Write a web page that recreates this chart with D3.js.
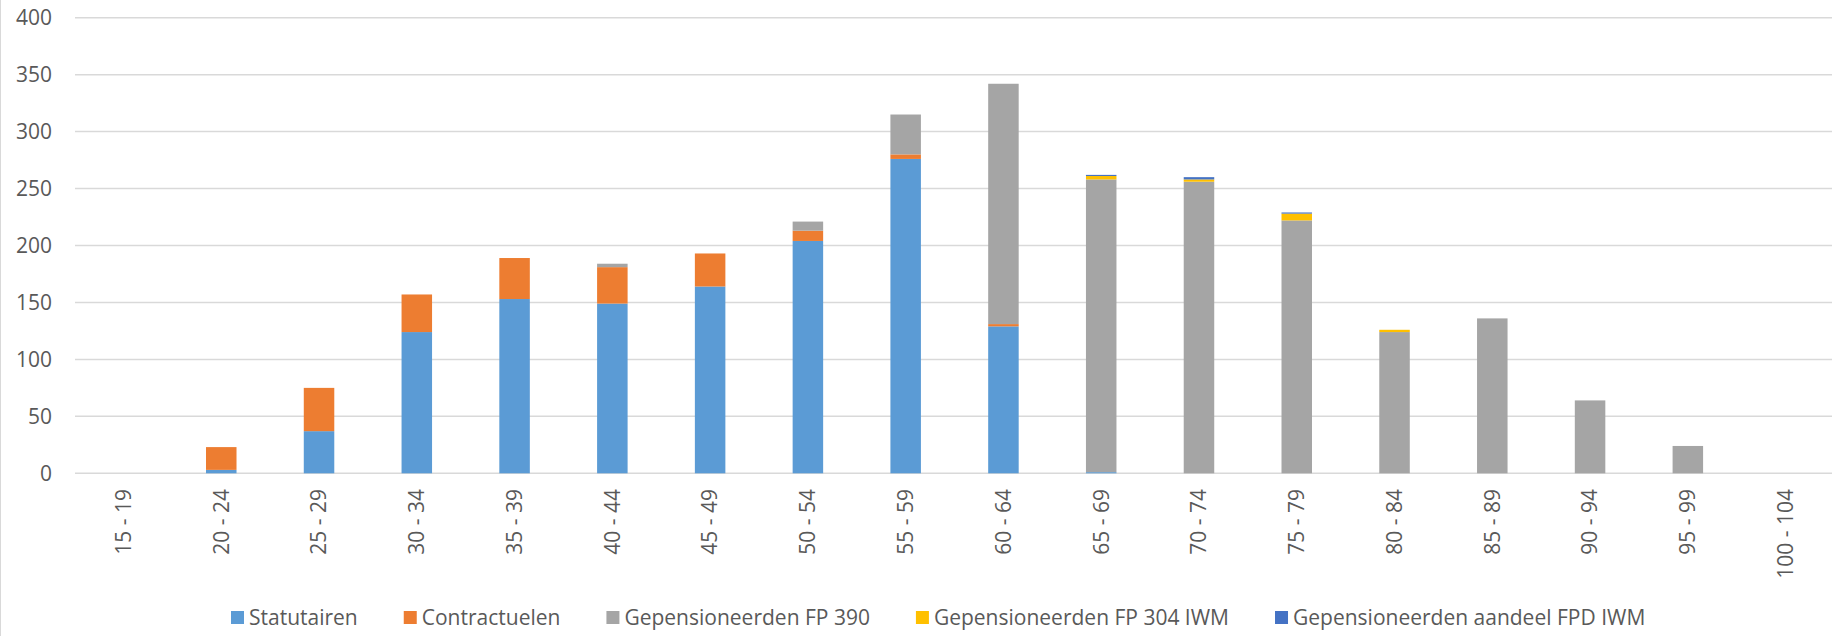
<!DOCTYPE html>
<html>
<head>
<meta charset="utf-8">
<script src="https://cdn.jsdelivr.net/npm/d3@7"></script>
<style>
	body { margin: 0; background: #fff; }
	text { font-family: "Open Sans", sans-serif; fill: #595959; }
</style>
</head>
<body>
<script>

var categories = ['15 - 19', '20 - 24', '25 - 29', '30 - 34', '35 - 39', '40 - 44', '45 - 49', '50 - 54', '55 - 59',
	'60 - 64', '65 - 69', '70 - 74', '75 - 79', '80 - 84', '85 - 89', '90 - 94', '95 - 99', '100 - 104'];

var statutairen   = [0, 3, 37, 124, 153, 149, 164, 204, 276, 129, 1, 0, 0, 0, 0, 0, 0, 0];
var contractuelen = [0, 20, 38, 33, 36, 32, 29, 9, 4, 2, 0, 0, 0, 0, 0, 0, 0, 0];
var fp390         = [0, 0, 0, 0, 0, 3, 0, 8, 35, 211, 257, 256, 222, 124, 136, 64, 24, 0];
var fp304iwm      = [0, 0, 0, 0, 0, 0, 0, 0, 0, 0, 3, 2, 6, 2, 0, 0, 0, 0];
var fpdiwm        = [0, 0, 0, 0, 0, 0, 0, 0, 0, 0, 1, 2, 1, 0, 0, 0, 0, 0];

var seriesNames = ['Statutairen', 'Contractuelen', 'Gepensioneerden FP 390', 'Gepensioneerden FP 304 IWM', 'Gepensioneerden aandeel FPD IWM'];
var seriesColors = ['#5b9bd5', '#ed7d31', '#a5a5a5', '#ffc000', '#4472c4'];
var yTicks = [0, 50, 100, 150, 200, 250, 300, 350, 400];

(function(){

	var w = 1832;
	var h = 636;

	var seriesValues = [statutairen, contractuelen, fp390, fp304iwm, fpdiwm];

	// one row per age group, one column per series
	var table = categories.map(function(c, i){
		var row = { cat: c };
		seriesNames.forEach(function(s, j){
			row[s] = seriesValues[j][i];
		});
		return row;
	});

	var stacked = d3.stack().keys(seriesNames)(table);

	var svg = d3.select('body')
				.append('svg')
				.attr('width', w)
				.attr('height', h);

	// chart border (only the left edge is inside the picture)
	svg.append('line')
		.attr('x1', 0.5).attr('x2', 0.5)
		.attr('y1', 0).attr('y2', h)
		.attr('stroke', '#d9d9d9')
		.attr('stroke-width', 1);

	var p = 0.688;
	var x = d3.scaleBand()
		.domain(categories)
		.range([74.6, 1834.5])
		.paddingInner(p)
		.paddingOuter(p / 2);

	var y = d3.scaleLinear()
		.domain([0, 400])
		.range([473.3, 17.7]);

	// gridlines
	svg.append('g')
		.selectAll('line')
		.data(yTicks)
		.enter()
		.append('line')
		.attr('x1', 75)
		.attr('x2', w)
		.attr('y1', function(d){ return y(d); })
		.attr('y2', function(d){ return y(d); })
		.attr('stroke', '#d9d9d9')
		.attr('stroke-width', 1.5);

	// y axis labels
	var yAxis = d3.axisLeft(y).tickValues(yTicks).tickSize(0).tickPadding(0);
	svg.append('g')
		.attr('transform', 'translate(52,0)')
		.call(yAxis)
		.call(function(g){ g.select('.domain').remove(); })
		.selectAll('text')
		.attr('font-size', 21)
		.attr('font-family', '"Open Sans", sans-serif')
		.attr('fill', '#595959');

	// bars
	svg.append('g')
		.selectAll('g')
		.data(stacked)
		.enter()
		.append('g')
		.attr('fill', function(d, i){ return seriesColors[i]; })
		.selectAll('rect')
		.data(function(d){ return d; })
		.enter()
		.append('rect')
		.attr('x', function(d){ return x(d.data.cat); })
		.attr('y', function(d){ return y(d[1]); })
		.attr('width', x.bandwidth())
		.attr('height', function(d){ return Math.max(0, y(d[0]) - y(d[1])); });

	// x labels, rotated
	svg.append('g')
		.selectAll('text')
		.data(categories)
		.enter()
		.append('text')
		.attr('transform', function(d){
			return 'translate(' + (x(d) + x.bandwidth() / 2) + ',489) rotate(-90)';
		})
		.attr('text-anchor', 'end')
		.attr('dy', '0.35em')
		.attr('font-size', 21)
		.text(function(d){ return d; });

	// legend
	var legend = svg.append('g');
	var items = legend.selectAll('g')
		.data(seriesNames)
		.enter()
		.append('g');

	items.append('rect')
		.attr('width', 13)
		.attr('height', 13)
		.attr('y', 611)
		.attr('fill', function(d, i){ return seriesColors[i]; });

	items.append('text')
		.attr('x', 18)
		.attr('y', 625)
		.attr('font-size', 21)
		.text(function(d){ return d; });

	var gap = 46;
	var pos = 0;
	items.each(function(){
		var g = d3.select(this);
		g.attr('transform', 'translate(' + pos + ',0)');
		pos += 18 + g.select('text').node().getComputedTextLength() + gap;
	});
	legend.attr('transform', 'translate(231,0)');

})();

</script>
</body>
</html>
